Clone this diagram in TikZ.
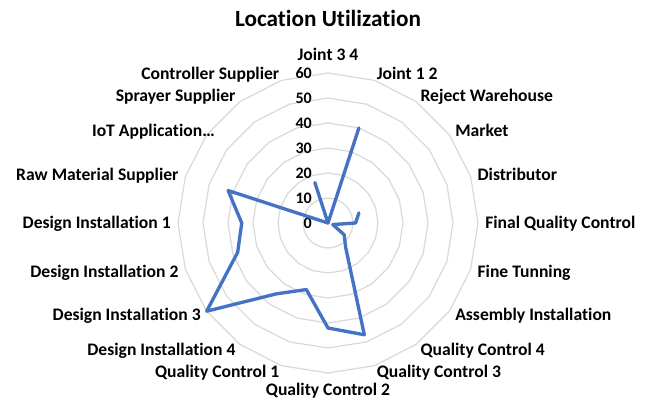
\documentclass[tikz,border=0pt]{standalone}
\usepackage{fontspec}
\setmainfont{Carlito}[Ligatures=NoCommon]
\definecolor{chartblue}{HTML}{4472C4}
\definecolor{gridgray}{HTML}{D9D9D9}
\tikzset{
	ringline/.style={draw=gridgray, line width=0.9pt},
	utilline/.style={draw=chartblue, line width=2.5pt, line join=round, line cap=round},
	catlabel/.style={font=\bfseries\fontsize{13.2}{15}\selectfont, inner sep=0pt, text height=8.5pt, text depth=0pt},
	scalelabel/.style={font=\bfseries\fontsize{12}{14}\selectfont, inner sep=0pt, text height=7.7pt, text depth=0pt, anchor=east},
	charttitle/.style={font=\bfseries\fontsize{17.4}{20}\selectfont, inner sep=0pt}
}
\begin{document}
\begin{tikzpicture}[x=0.75pt, y=-0.75pt]
	\useasboundingbox[fill=white] (0,0) rectangle (648,401);
	\node[charttitle] (title) at (328,18) {Location Utilization};
	\begin{scope}[shift={(328,223)}]
		\foreach \v in {10,20,...,60}
			\draw[ringline] (-90:\v*2.5) \foreach \k in {1,...,19} {-- (\k*18-90:\v*2.5)} -- cycle;
		\foreach \v in {0,10,...,60}
			\node[scalelabel] (tick\v) at (-16,-\v*2.5) {\v};
		\draw[utilline] (-18:13*2.5) \foreach \k/\v in {5/11,6/2,7/8,8/12,9/47,10/42,11/28,12/35,13/60,14/38,15/34.5,16/42,17/0,18/0,19/17,20/0,21/40,22/0} {-- (\k*18-90:\v*2.5)};
		\node[catlabel] (cat0) at (-90:168) {Joint 3 4};
		\node[catlabel] (cat10) at (90:167) {Quality Control 2};
		\foreach \k/\txt in {1/Joint 1 2,2/Reject Warehouse,3/Market,4/Distributor,5/Final Quality Control,6/Fine Tunning,7/Assembly Installation,8/Quality Control 4,9/Quality Control 3}
			\node[catlabel, anchor=west] (cat\k) at (\k*18-90:157) {\txt};
		\foreach \k/\txt in {11/Quality Control 1,12/Design Installation 4,13/Design Installation 3,14/Design Installation 2,15/Design Installation 1,16/Raw Material Supplier,18/Sprayer Supplier,19/Controller Supplier}
			\node[catlabel, anchor=east] (cat\k) at (\k*18-90:157) {\txt};
		\node[catlabel, anchor=east] (cat17) at (-113,-92) {IoT Application…};
	\end{scope}
\end{tikzpicture}
\end{document}
